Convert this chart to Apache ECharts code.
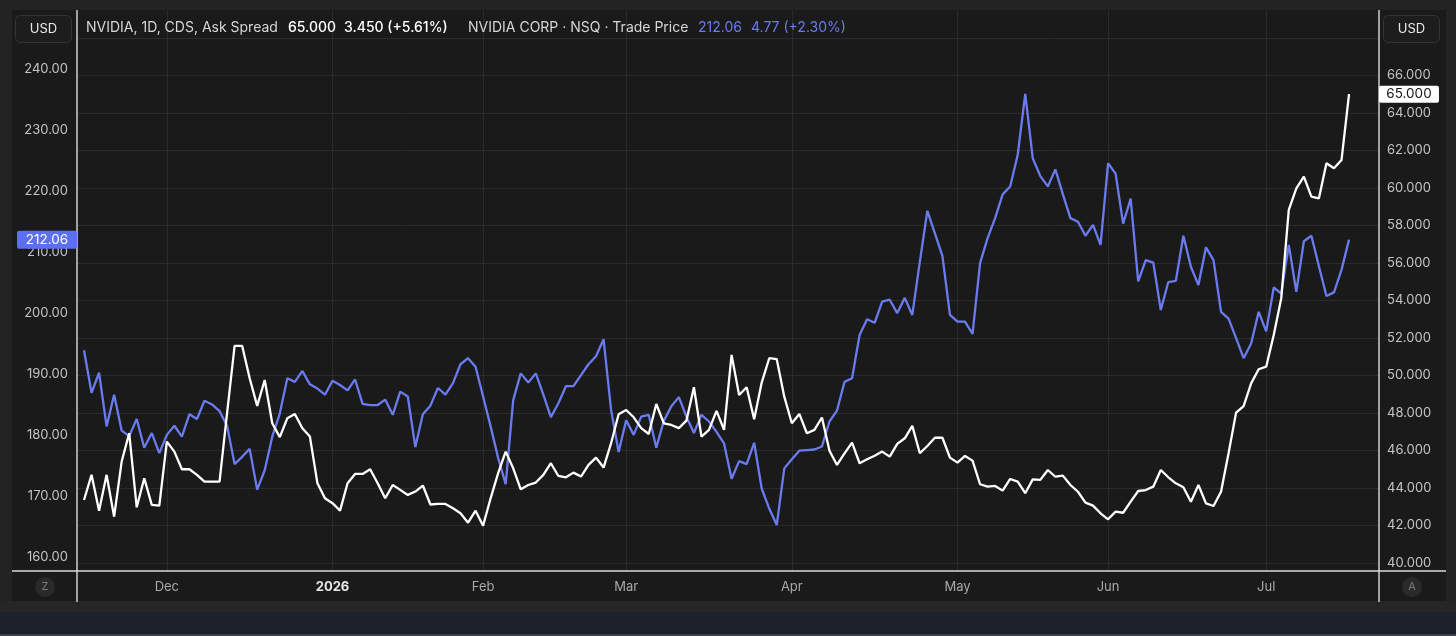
<!DOCTYPE html>
<html><head><meta charset="utf-8">
<script src="https://cdn.jsdelivr.net/npm/echarts@6.0.0/dist/echarts.min.js"></script>
<style>html,body{margin:0;padding:0;background:#232323;overflow:hidden}#c{width:1456px;height:636px;}</style>
</head><body><div id="c"></div>
<script>
// NVIDIA CORP · NSQ · Trade Price (left axis, USD)
const nvdaPrice = [
193.9,186.9,190.2,181.4,186.6,180.7,179.8,182.6,177.9,180.3,
177.0,180.0,181.5,179.7,183.4,182.6,185.6,185.0,183.9,181.5,
175.2,176.4,177.7,171.0,174.2,179.7,183.5,189.3,188.7,190.5,
188.3,187.6,186.6,188.9,188.2,187.3,189.1,185.1,184.9,184.9,
185.8,183.3,187.1,186.3,178.0,183.4,184.8,187.7,186.6,188.5,
191.6,192.6,191.2,186.3,181.4,176.2,171.9,185.7,190.1,188.6,
190.1,186.6,182.9,185.2,188.0,188.0,189.8,191.6,192.9,195.7,
184.1,177.2,182.4,180.0,183.0,183.3,177.9,182.3,184.7,186.2,
183.0,180.3,183.3,182.2,180.5,178.6,172.8,175.7,175.2,178.7,
171.2,167.9,165.2,174.5,176.0,177.4,177.5,177.6,178.1,182.2,
184.0,188.7,189.3,196.4,199.0,198.4,201.9,202.2,200.0,202.5,
199.7,208.4,216.8,213.1,209.4,199.7,198.6,198.6,196.6,208.2,
212.3,215.6,219.5,220.8,226.0,236.0,225.4,222.5,220.8,223.6,
219.5,215.6,215.0,212.7,214.5,211.2,224.6,222.9,214.7,218.8,
205.2,208.7,208.3,200.5,205.1,205.3,212.7,207.6,204.6,210.8,
208.7,200.2,199.1,195.9,192.6,195.0,200.2,197.0,204.2,203.2,
211.2,203.5,211.8,212.7,207.7,202.8,203.4,207.1,212.06
];
// NVIDIA, 1D, CDS, Ask Spread (right axis)
const cdsAskSpread = [
43.36,44.70,42.79,44.70,42.47,45.41,46.92,42.97,44.52,43.10,
43.06,46.47,45.94,45.00,45.00,44.70,44.34,44.34,44.34,47.99,
51.58,51.58,49.85,48.38,49.76,47.45,46.71,47.72,47.95,47.19,
46.74,44.25,43.45,43.19,42.79,44.25,44.75,44.75,45.00,44.25,
43.45,44.16,43.90,43.63,43.81,44.13,43.12,43.15,43.15,42.92,
42.65,42.15,42.79,41.99,43.45,44.79,45.94,45.05,43.93,44.16,
44.29,44.70,45.32,44.64,44.57,44.82,44.61,45.23,45.62,45.09,
46.39,47.93,48.16,47.77,47.19,46.88,48.48,47.45,47.36,47.19,
47.59,49.37,46.74,47.10,48.11,47.10,51.10,48.96,49.37,47.67,
49.62,50.92,50.87,48.87,47.45,47.95,46.92,47.10,47.76,45.99,
45.23,45.85,46.42,45.32,45.53,45.72,45.94,45.67,46.35,46.65,
47.31,45.85,46.24,46.68,46.68,45.62,45.35,45.71,45.46,44.20,
44.07,44.11,43.86,44.48,44.34,43.72,44.46,44.43,44.96,44.60,
44.66,44.16,43.80,43.22,43.06,42.65,42.33,42.74,42.68,43.27,
43.84,43.89,44.07,44.96,44.57,44.25,44.04,43.27,44.16,43.18,
43.04,43.80,45.85,48.02,48.37,49.58,50.33,50.47,52.16,54.12,
58.83,59.98,60.60,59.54,59.45,61.32,61.05,61.49,65.00
];
// bar index of first trading day of each month, and its label
const monthTickIndex = [11, 33, 53, 72, 94, 116, 136, 157];
const monthTickLabel = ['Dec', '2026', 'Feb', 'Mar', 'Apr', 'May', 'Jun', 'Jul'];
const priceTicks = [160, 170, 180, 190, 200, 210, 220, 230, 240];
const spreadTicks = [40, 42, 44, 46, 48, 50, 52, 54, 56, 58, 60, 62, 64, 66];
const spreadGridTicks = [40, 42, 44, 46, 48, 50, 52, 54, 56, 58, 60, 62, 64, 66, 68];
const headerSpread = {name: 'NVIDIA, 1D, CDS, Ask Spread', last: '65.000', change: '3.450 (+5.61%)'};
const headerPrice = {name: 'NVIDIA CORP · NSQ · Trade Price', last: '212.06', change: '4.77 (+2.30%)'};

const BLUE = '#6a7bef';
const FONT = 'Inter, Roboto, sans-serif';
const GRID_C = '#2b2b2b';

const chart = echarts.init(document.getElementById('c'), null, {renderer: 'canvas'});
const blueData = nvdaPrice.map((v, i) => [i, v]);
const whiteData = cdsAskSpread.map((v, i) => [i, v]);

const option = {
  backgroundColor: '#1a1a1a',
  animation: false,
  grid: {left: 77, right: 77, top: 10, bottom: 65},
  xAxis: {
    type: 'value', min: -0.93, max: 171.98,
    axisLine: {show: false},
    axisTick: {show: false, customValues: monthTickIndex},
    splitLine: {show: true, lineStyle: {color: GRID_C, width: 1}},
    axisLabel: {
      customValues: monthTickIndex, margin: 10,
      color: '#a9a9a9', fontSize: 13, fontFamily: FONT,
      formatter: v => {
        const k = monthTickIndex.indexOf(Math.round(v));
        const t = k >= 0 ? monthTickLabel[k] : '';
        return /^\d{4}$/.test(t) ? '{y|' + t + '}' : t;
      },
      rich: {y: {color: '#e6e6e6', fontWeight: 'bold', fontSize: 13, fontFamily: FONT}}
    }
  },
  yAxis: [
    {
      type: 'value', position: 'left', min: 157.65, max: 249.77,
      axisLine: {show: false}, axisTick: {show: false, customValues: priceTicks},
      splitLine: {show: false},
      axisLabel: {customValues: priceTicks, margin: 9, color: '#c4c4c4', fontSize: 13, fontFamily: FONT,
        formatter: v => v.toFixed(2)}
    },
    {
      type: 'value', position: 'right', min: 39.573, max: 69.49,
      axisLine: {show: false}, axisTick: {show: false, customValues: spreadGridTicks},
      splitLine: {show: true, lineStyle: {color: GRID_C, width: 1}},
      axisLabel: {customValues: spreadTicks, margin: 8, color: '#c4c4c4', fontSize: 13, fontFamily: FONT,
        formatter: v => v.toFixed(3)}
    }
  ],
  series: [
    {type: 'line', name: headerPrice.name, yAxisIndex: 0, data: blueData, showSymbol: false, symbol: 'none',
      lineStyle: {color: BLUE, width: 2.3}, z: 3},
    {type: 'line', name: headerSpread.name, yAxisIndex: 1, data: whiteData, showSymbol: false, symbol: 'none',
      lineStyle: {color: '#ffffff', width: 2.3}, z: 4}
  ]
};
chart.setOption(option);

const lastBlue = nvdaPrice[nvdaPrice.length - 1];
const lastWhite = cdsAskSpread[cdsAskSpread.length - 1];
const yBlue = chart.convertToPixel({yAxisIndex: 0}, lastBlue);
const yWhite = chart.convertToPixel({yAxisIndex: 1}, lastWhite);

function txt(x, y, text, fill, opts) {
  return Object.assign({type: 'text', x: x, y: y, z: 100,
    style: Object.assign({text: text, fill: fill, fontSize: 14, fontFamily: FONT, verticalAlign: 'middle', align: 'left'}, opts || {})});
}
const g = [
  // frame
  {type: 'rect', z: 90, shape: {x: 0, y: 0, width: 1456, height: 10}, style: {fill: '#232323'}},
  {type: 'rect', z: 90, shape: {x: 0, y: 0, width: 12, height: 612}, style: {fill: '#232323'}},
  {type: 'rect', z: 90, shape: {x: 1446, y: 0, width: 10, height: 612}, style: {fill: '#232323'}},
  {type: 'rect', z: 90, shape: {x: 0, y: 601, width: 1456, height: 11}, style: {fill: '#262626'}},
  {type: 'rect', z: 90, shape: {x: 0, y: 612, width: 1456, height: 24}, style: {fill: '#1d212c'}},
  {type: 'rect', z: 90, shape: {x: 0, y: 634, width: 1456, height: 2}, style: {fill: '#3a3f4a'}},
  // plot borders
  {type: 'line', z: 95, shape: {x1: 77, y1: 10, x2: 77, y2: 602}, style: {stroke: '#cfcfcf', lineWidth: 1.5}},
  {type: 'line', z: 95, shape: {x1: 1379, y1: 10, x2: 1379, y2: 602}, style: {stroke: '#cfcfcf', lineWidth: 1.5}},
  {type: 'line', z: 95, shape: {x1: 12, y1: 571, x2: 1446, y2: 571}, style: {stroke: '#d8d8d8', lineWidth: 1.5}},
  // currency boxes
  {type: 'rect', z: 96, shape: {x: 15.5, y: 15.5, width: 56, height: 27, r: 5}, style: {fill: '#1d1d1d', stroke: '#353535', lineWidth: 1}},
  txt(43.5, 29, 'USD', '#e8e8e8', {align: 'center', fontSize: 13}),
  {type: 'rect', z: 96, shape: {x: 1383.5, y: 15.5, width: 56, height: 27, r: 5}, style: {fill: '#1d1d1d', stroke: '#353535', lineWidth: 1}},
  txt(1411.5, 29, 'USD', '#e8e8e8', {align: 'center', fontSize: 13}),
  // header legend
  txt(86, 28, headerSpread.name, '#d6d6d6'),
  txt(288, 28, headerSpread.last, '#ffffff', {fontWeight: 500}),
  txt(344, 28, headerSpread.change, '#ffffff', {fontWeight: 500}),
  txt(468, 28, headerPrice.name, '#d6d6d6'),
  txt(698, 28, headerPrice.last, BLUE),
  txt(751, 28, headerPrice.change, BLUE),
  // last value tags
  {type: 'rect', z: 97, shape: {x: 17, y: yBlue - 9, width: 60, height: 18, r: 2}, style: {fill: '#5c6ff0'}},
  txt(47, yBlue, lastBlue.toFixed(2), '#ffffff', {align: 'center', fontSize: 13.5}),
  {type: 'rect', z: 97, shape: {x: 1379, y: yWhite - 8.5, width: 60, height: 17, r: 2}, style: {fill: '#ffffff'}},
  txt(1409, yWhite, lastWhite.toFixed(3), '#131313', {align: 'center', fontSize: 13.5}),
  // bottom corner buttons
  {type: 'circle', z: 96, shape: {cx: 45, cy: 587, r: 10}, style: {fill: '#2a2a2a'}},
  txt(45, 587, 'Z', '#7a7a7a', {align: 'center', fontSize: 11}),
  {type: 'circle', z: 96, shape: {cx: 1412, cy: 587, r: 10}, style: {fill: '#2a2a2a'}},
  txt(1412, 587, 'A', '#7a7a7a', {align: 'center', fontSize: 11})
];
chart.setOption({graphic: g});
</script>
</body></html>
